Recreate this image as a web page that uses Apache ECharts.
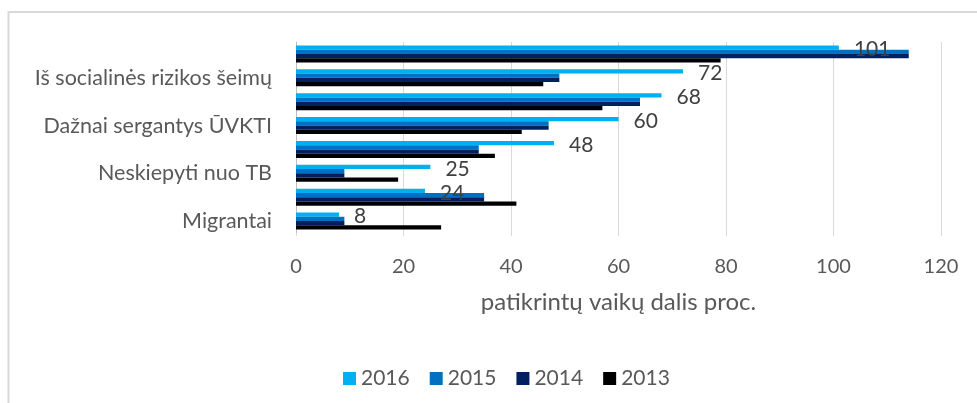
<!DOCTYPE html>
<html>
<head>
<meta charset="utf-8">
<script src="https://cdn.jsdelivr.net/npm/echarts@6/dist/echarts.min.js"></script>
<style>
    html, body { margin: 0; padding: 0; background: #fff; }
    #chart { width: 977px; height: 403px; }
</style>
</head>
<body>
<div id="chart"></div>
<script>
// kategorijos (nuo apačios), kas antra etiketė nerodoma
const categories = ['Migrantai', '', 'Neskiepyti nuo TB', ' ', 'Dažnai sergantys ŪVKTI', '  ', 'Iš socialinės rizikos šeimų', '   ']
const years = ['2016', '2015', '2014', '2013']
const data2016 = [8, 24, 25, 48, 60, 68, 72, 101]
const data2015 = [9, 35, 9, 34, 47, 64, 49, 114]
const data2014 = [9, 35, 9, 34, 47, 64, 49, 114]
const data2013 = [27, 41, 19, 37, 42, 57, 46, 79]
const xTicks = [0, 20, 40, 60, 80, 100, 120]
const colors = ['#00b0f0', '#0070c0', '#002060', '#000000']

const font = 'Lato, "Open Sans", sans-serif'
const textColor = '#595959'

const myChart = echarts.init(document.getElementById('chart'))

const seriesData = [data2016, data2015, data2014, data2013]

const option = {
    animation: false,
    color: colors,
    textStyle: { fontFamily: font },
    graphic: [{
        type: 'rect',
        shape: { x: 8.5, y: 12, width: 1000, height: 500 },
        style: { fill: 'none', stroke: '#d9d9d9', lineWidth: 2 },
        silent: true
    }],
    legend: {
        data: years,
        left: 338,
        top: 363,
        itemWidth: 13,
        itemHeight: 13,
        itemGap: 20,
        icon: 'rect',
        textStyle: { color: textColor, fontSize: 21, fontFamily: font }
    },
    grid: {
        left: 296,
        right: 36,
        top: 42,
        bottom: 170
    },
    xAxis: {
        type: 'value',
        min: xTicks[0],
        max: xTicks[xTicks.length - 1],
        interval: 20,
        name: 'patikrintų vaikų dalis proc.',
        nameLocation: 'middle',
        nameGap: 57,
        nameTextStyle: { color: textColor, fontSize: 24, fontFamily: font },
        axisLine: { show: false },
        axisTick: { show: true, length: 3, lineStyle: { color: '#d9d9d9' } },
        axisLabel: { color: textColor, fontSize: 20, margin: 24, fontFamily: font },
        splitLine: { lineStyle: { color: '#d9d9d9', width: 1 } }
    },
    yAxis: {
        type: 'category',
        data: categories,
        axisLine: { lineStyle: { color: '#bfbfbf' } },
        axisTick: { show: false },
        axisLabel: { interval: 1, color: textColor, fontSize: 21.5, margin: 24, fontFamily: font }
    },
    series: years.map((y, i) => ({
        name: y,
        type: 'bar',
        data: seriesData[i],
        barGap: '0%',
        barCategoryGap: '29%',
        label: i === 0 ? {
            show: true,
            position: 'right',
            distance: 15,
            offset: [0, 2],
            color: '#404040',
            fontSize: 21,
            fontFamily: font
        } : { show: false }
    }))
}

myChart.setOption(option)
</script>
</body>
</html>
